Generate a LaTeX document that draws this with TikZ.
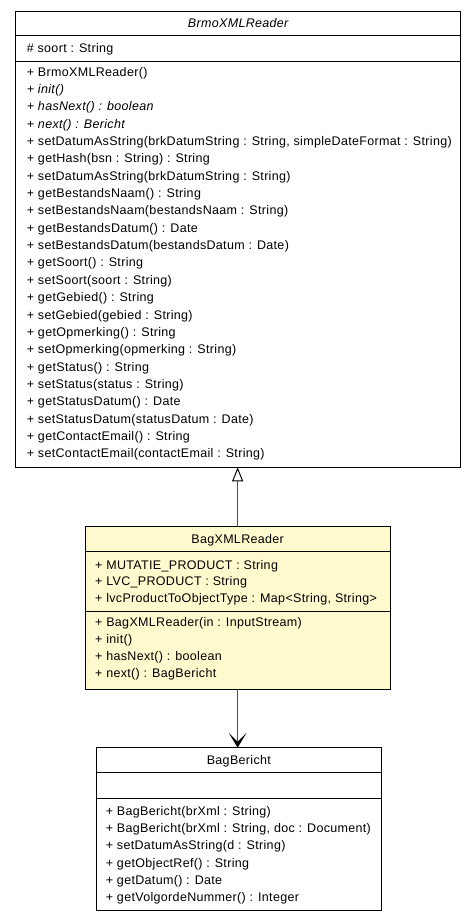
\documentclass[tikz,border=0pt]{standalone}
\usepackage{fontspec}
\setmainfont{Liberation Sans}[LetterSpace=2.6]
\usetikzlibrary{arrows.meta}
\definecolor{classyellow}{RGB}{255,249,206}
\definecolor{linkgray}{RGB}{80,80,80}
\begin{document}
\begin{tikzpicture}[x=1pt,y=-1pt,
  umlfont/.style={font=\fontsize{12.5}{15}\selectfont},
  txt/.style={umlfont,anchor=base west,inner sep=0pt},
  ttl/.style={umlfont,anchor=base,inner sep=0pt},
  classbox/.style={draw=black,line width=0.95pt,anchor=north west,inner sep=0pt,outer sep=0pt},
  sepline/.style={draw=black,line width=0.95pt},
  genlink/.style={draw=linkgray,line width=1.2pt,-{Triangle[open,length=14pt,width=11pt,fill=white,color=black,line width=1pt]}},
  assoclink/.style={draw=linkgray,line width=1.2pt,-{Stealth[length=15pt,width=18pt,inset=9pt,color=black]}}
]
\useasboundingbox (0,0) rectangle (476,921);

% ---------- BrmoXMLReader ----------
\node[classbox,fill=white,minimum width=445pt,minimum height=456.3pt] (brmo) at (15.7,11) {};
\draw[sepline] (brmo.west |- 0,35.7) -- (brmo.east |- 0,35.7);
\draw[sepline] (brmo.west |- 0,61.7) -- (brmo.east |- 0,61.7);
\node[ttl] (brmotitle) at (238.2,27.5) {\itshape BrmoXMLReader};
\node[txt] (brmoattr) at (26.7,52) {\# soort : String};
\foreach \t [count=\i] in {
  {+ BrmoXMLReader()},
  {\itshape + init()},
  {\itshape + hasNext() : boolean},
  {\itshape + next() : Bericht},
  {+ setDatumAsString(brkDatumString : String, simpleDateFormat : String)},
  {+ getHash(bsn : String) : String},
  {+ setDatumAsString(brkDatumString : String)},
  {+ getBestandsNaam() : String},
  {+ setBestandsNaam(bestandsNaam : String)},
  {+ getBestandsDatum() : Date},
  {+ setBestandsDatum(bestandsDatum : Date)},
  {+ getSoort() : String},
  {+ setSoort(soort : String)},
  {+ getGebied() : String},
  {+ setGebied(gebied : String)},
  {+ getOpmerking() : String},
  {+ setOpmerking(opmerking : String)},
  {+ getStatus() : String},
  {+ setStatus(status : String)},
  {+ getStatusDatum() : Date},
  {+ setStatusDatum(statusDatum : Date)},
  {+ getContactEmail() : String},
  {+ setContactEmail(contactEmail : String)}}
  \node[txt] (brmom\i) at (26.7,{76+(\i-1)*17.36}) {\t};

% ---------- BagXMLReader ----------
\node[classbox,fill=classyellow,minimum width=304.7pt,minimum height=162.6pt] (bag) at (85.3,526.7) {};
\draw[sepline] (bag.west |- 0,551.7) -- (bag.east |- 0,551.7);
\draw[sepline] (bag.west |- 0,611.2) -- (bag.east |- 0,611.2);
\node[ttl] (bagtitle) at (237.65,543.5) {BagXMLReader};
\foreach \t [count=\i] in {
  {+ MUTATIE\_PRODUCT : String},
  {+ LVC\_PRODUCT : String},
  {+ lvcProductToObjectType : Map<String, String>}}
  \node[txt] (baga\i) at (95,{569+(\i-1)*16.8}) {\t};
\foreach \t [count=\i] in {
  {+ BagXMLReader(in : InputStream)},
  {+ init()},
  {+ hasNext() : boolean},
  {+ next() : BagBericht}}
  \node[txt] (bagm\i) at (95,{626.7+(\i-1)*17}) {\t};

% ---------- BagBericht ----------
\node[classbox,fill=white,minimum width=285.7pt,minimum height=162.3pt] (bagb) at (96,747.7) {};
\draw[sepline] (bagb.west |- 0,772.5) -- (bagb.east |- 0,772.5);
\draw[sepline] (bagb.west |- 0,798.3) -- (bagb.east |- 0,798.3);
\node[ttl] (bagbtitle) at (238.85,764.5) {BagBericht};
\foreach \t [count=\i] in {
  {+ BagBericht(brXml : String)},
  {+ BagBericht(brXml : String, doc : Document)},
  {+ setDatumAsString(d : String)},
  {+ getObjectRef() : String},
  {+ getDatum() : Date},
  {+ getVolgordeNummer() : Integer}}
  \node[txt] (bagbm\i) at (105.7,{815.5+(\i-1)*17.2}) {\t};

% ---------- connectors ----------
\draw[genlink] (bag.north) -- (bag.north |- brmo.south);
\draw[assoclink] (bag.south) -- (bag.south |- bagb.north);
\end{tikzpicture}
\end{document}
